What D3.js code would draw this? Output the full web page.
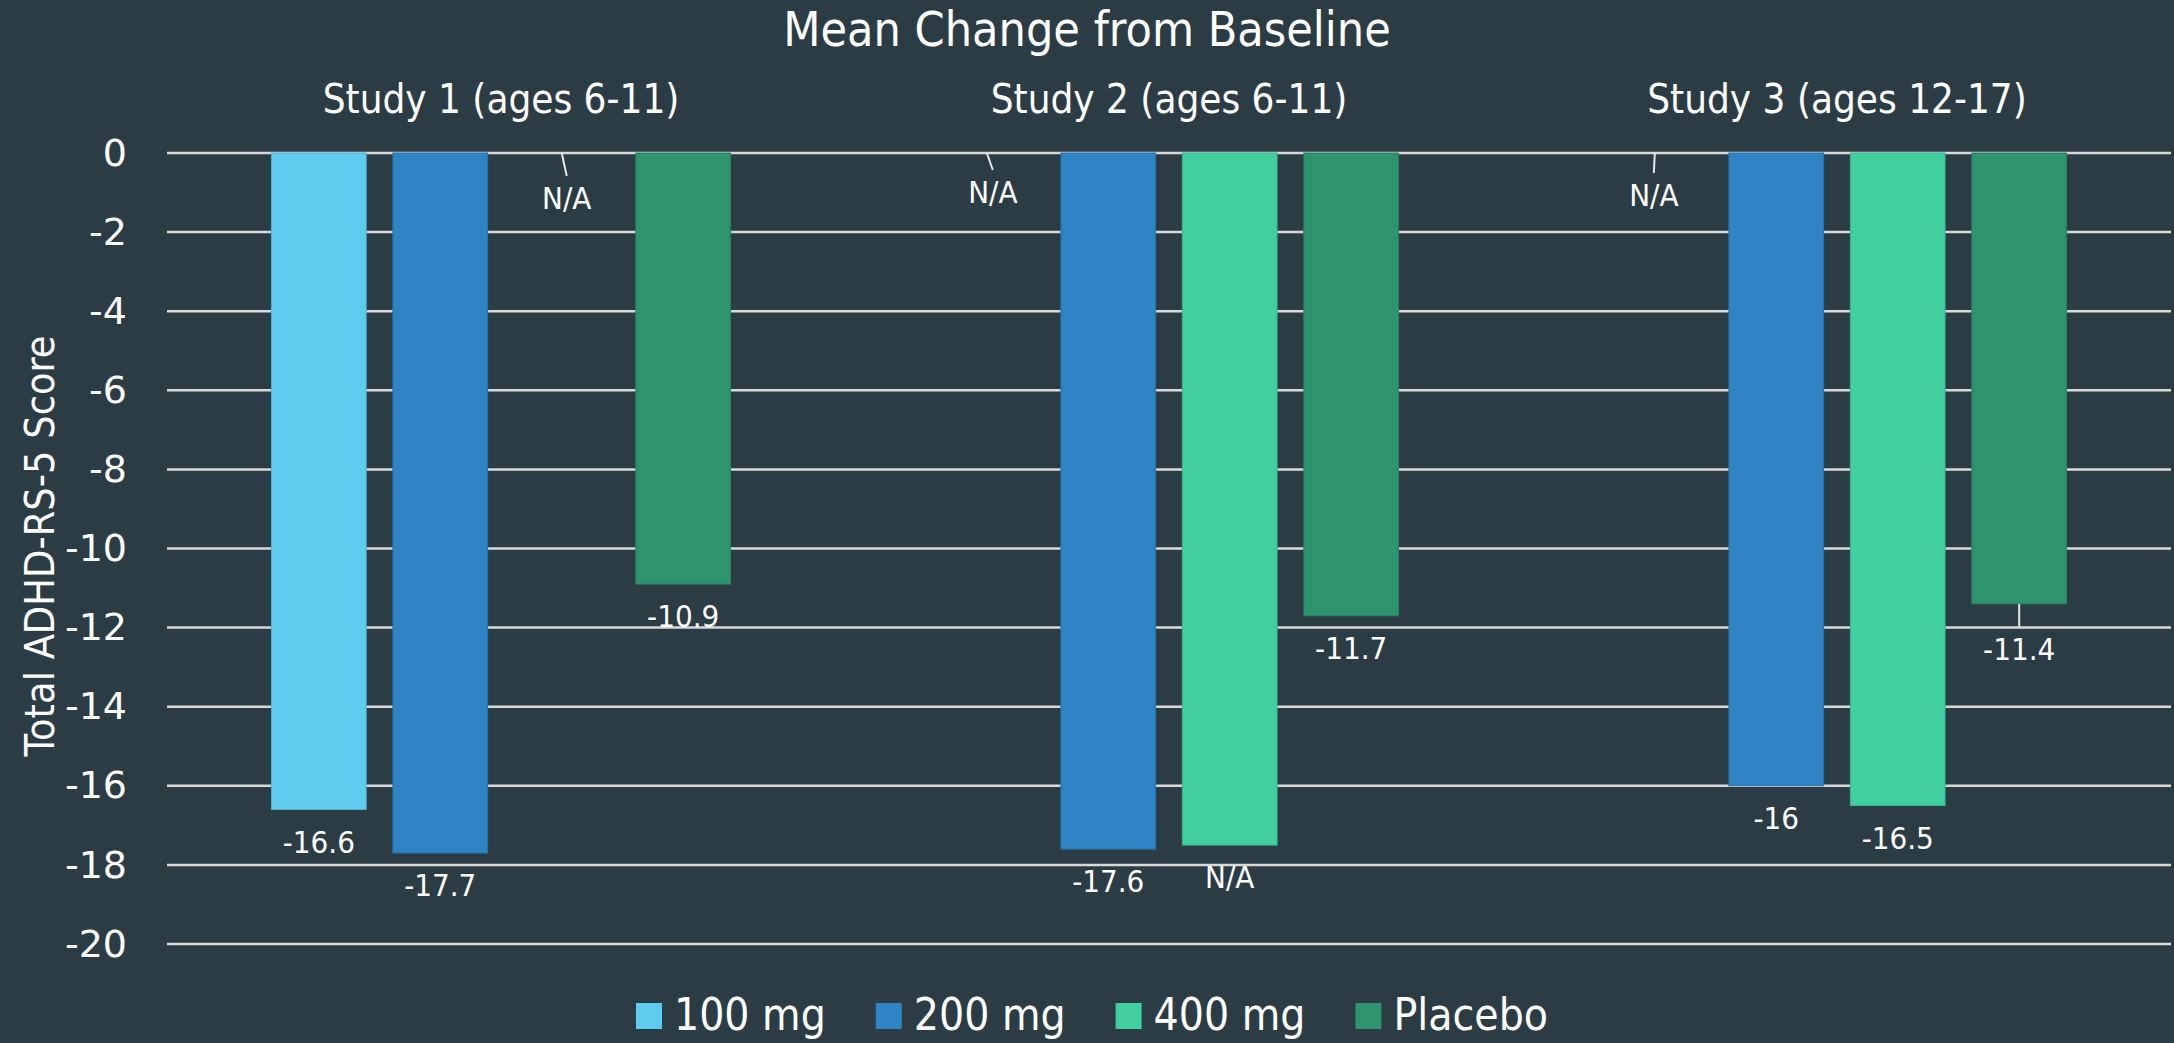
<!DOCTYPE html>
<html>
<head>
<meta charset="utf-8">
<script src="https://cdn.jsdelivr.net/npm/d3@7"></script>
<style>
  html, body { margin: 0; padding: 0; background: #2c3c44; }
  svg text { font-family: "DejaVu Sans Condensed", "DejaVu Sans", sans-serif; fill: #ffffff; }
</style>
</head>
<body>
<svg id="chart"></svg>
<script>
// Chart size
const width = 2174;
const height = 1043;

// Data
const studies = ["Study 1 (ages 6-11)", "Study 2 (ages 6-11)", "Study 3 (ages 12-17)"];
const doses = ["100 mg", "200 mg", "400 mg", "Placebo"];
const values100 = [-16.6, null, null];
const values200 = [-17.7, -17.6, -16];
const values400 = [null, -17.5, -16.5];
const valuesPlacebo = [-10.9, -11.7, -11.4];
// label text as printed on the chart
const labels100 = ["-16.6", "N/A", "N/A"];
const labels200 = ["-17.7", "-17.6", "-16"];
const labels400 = ["N/A", "N/A", "-16.5"];
const labelsPlacebo = ["-10.9", "-11.7", "-11.4"];
const yTicks = d3.range(-20, 1, 2);

const colors = ["#5ecbef", "#2e84c4", "#41cfa0", "#2e946e"];

// which labels were pulled away from the bar end with a leader line
const leaderLabels = {"Study 1 (ages 6-11)|400 mg": [5, 45], "Study 2 (ages 6-11)|100 mg": [6, 39],
    "Study 3 (ages 12-17)|100 mg": [-1, 42], "Study 3 (ages 12-17)|Placebo": [0, 45]};

const allValues = [values100, values200, values400, valuesPlacebo];
const allLabels = [labels100, labels200, labels400, labelsPlacebo];
const rows = [];
studies.forEach((s, i) => {
    doses.forEach((d, j) => {
        rows.push({study: s, dose: d, value: allValues[j][i], label: allLabels[j][i]});
    });
});

const svg = d3.select("#chart")
    .attr("width", width)
    .attr("height", height);

// Scales
const x0 = d3.scaleBand().domain(studies).range([167, 2171]);
const x1 = d3.scaleBand().domain(doses).range([0, x0.bandwidth()])
    .paddingInner(0.22).paddingOuter(0.86);
const y = d3.scaleLinear().domain([-20, 0]).range([944, 153]);
const color = d3.scaleOrdinal().domain(doses).range(colors);

// Gridlines
svg.append("g")
    .selectAll("line")
    .data(yTicks)
    .enter().append("line")
    .attr("x1", 167)
    .attr("x2", 2171)
    .attr("y1", d => y(d))
    .attr("y2", d => y(d))
    .attr("stroke", "#d9d9d9")
    .attr("stroke-width", 2.5);

// Y axis labels
const yAxis = svg.append("g")
    .attr("transform", "translate(127,0)")
    .call(d3.axisLeft(y).tickValues(yTicks).tickSize(0).tickPadding(0).tickFormat(d3.format("d")));
yAxis.select(".domain").remove();
yAxis.selectAll("text")
    .style("font-size", "38px")
    .style("font-family", "\"DejaVu Sans\", sans-serif")
    .attr("fill", "#ffffff")
    .text(d => d === 0 ? "0" : "-" + Math.abs(d));

// Bars
svg.append("g")
    .selectAll("rect")
    .data(rows.filter(d => d.value !== null))
    .enter().append("rect")
    .attr("x", d => x0(d.study) + x1(d.dose))
    .attr("width", x1.bandwidth())
    .attr("y", y(0))
    .attr("height", d => y(d.value) - y(0))
    .attr("fill", d => color(d.dose))
    .attr("stroke", d => d3.color(color(d.dose)).darker(0.4))
    .attr("stroke-width", 1);

// Data labels
const labelG = svg.append("g");
rows.forEach(d => {
    const cx = x0(d.study) + x1(d.dose) + x1.bandwidth() / 2;
    const yEnd = y(d.value === null ? 0 : d.value);
    const leader = leaderLabels[d.study + "|" + d.dose];
    const dx = leader ? leader[0] : 0;
    const dy = leader ? leader[1] : 32;
    if (leader) {
        labelG.append("line")
            .attr("x1", cx)
            .attr("y1", yEnd)
            .attr("x2", cx + dx)
            .attr("y2", yEnd + dy - 22)
            .attr("stroke", "#e6e6e6")
            .attr("stroke-width", 2);
    }
    labelG.append("text")
        .attr("x", cx + dx)
        .attr("y", yEnd + dy)
        .attr("dy", "0.36em")
        .attr("text-anchor", "middle")
        .style("font-size", "31px")
        .text(d.label);
});

// Titles
svg.append("text")
    .attr("x", 1087)
    .attr("y", 46)
    .attr("text-anchor", "middle")
    .style("font-size", "48px")
    .text("Mean Change from Baseline");

svg.append("g")
    .selectAll("text")
    .data(studies)
    .enter().append("text")
    .attr("x", d => x0(d) + x0.bandwidth() / 2)
    .attr("y", 113)
    .attr("text-anchor", "middle")
    .style("font-size", "40px")
    .text(d => d);

svg.append("text")
    .attr("transform", "translate(39,546) rotate(-90)")
    .attr("dy", "0.36em")
    .attr("text-anchor", "middle")
    .style("font-size", "41px")
    .text("Total ADHD-RS-5 Score");

// Legend
const legend = svg.append("g");
let lx = 0;
doses.forEach(d => {
    const item = legend.append("g").attr("transform", `translate(${lx},0)`);
    item.append("rect")
        .attr("x", 0)
        .attr("y", 1003)
        .attr("width", 26)
        .attr("height", 26)
        .attr("fill", color(d));
    const t = item.append("text")
        .attr("x", 38)
        .attr("y", 1030)
        .style("font-size", "44px")
        .text(d);
    lx += 38 + t.node().getComputedTextLength() + 50;
});
const legendWidth = lx - 50;
legend.attr("transform", `translate(${1092 - legendWidth / 2},0)`);
</script>
</body>
</html>
